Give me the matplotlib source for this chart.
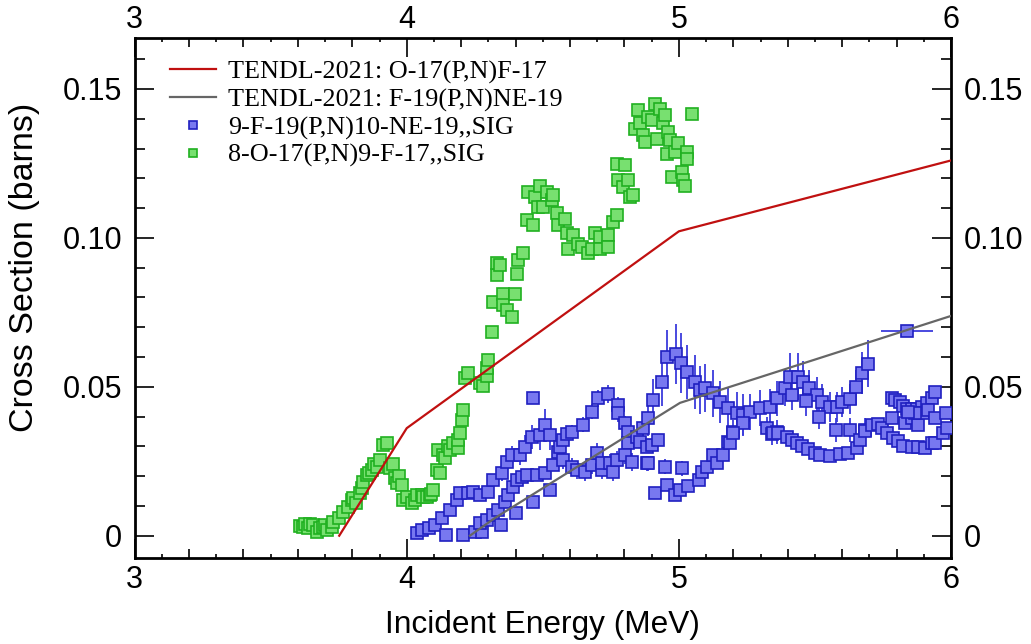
# Cross section plot: O-17(p,n) and F-19(p,n), TENDL-2021 vs EXFOR

import matplotlib.pyplot as plt
from matplotlib.ticker import MultipleLocator
import numpy as np

# TENDL-2021 evaluated curves
tendl_o17_e = [3.752, 4.0, 5.0, 6.0]
tendl_o17_s = [0.0, 0.0361, 0.1022, 0.1260]
tendl_f19_e = [4.232, 4.325, 5.004, 6.0]
tendl_f19_s = [0.0, 0.0060, 0.0446, 0.0738]

# 8-O-17(P,N)9-F-17,,SIG
green_e = [3.608, 3.620, 3.626, 3.639, 3.645, 3.657, 3.669, 3.680, 3.694, 3.700,
           3.706, 3.724, 3.730, 3.752, 3.767, 3.786, 3.798, 3.804, 3.815, 3.828,
           3.835, 3.841, 3.853, 3.860, 3.871, 3.880, 3.890, 3.902, 3.914, 3.926,
           3.939, 3.950, 3.957, 3.963, 3.970, 3.981, 3.988, 4.000, 4.018, 4.030,
           4.037, 4.055, 4.060, 4.073, 4.086, 4.090, 4.098, 4.110, 4.116, 4.122,
           4.135, 4.141, 4.150, 4.159, 4.171, 4.190, 4.190, 4.196, 4.202, 4.208,
           4.214, 4.226, 4.269, 4.282, 4.294, 4.294, 4.300, 4.312, 4.318, 4.331,
           4.331, 4.343, 4.355, 4.355, 4.367, 4.386, 4.398, 4.404, 4.410, 4.429,
           4.441, 4.447, 4.465, 4.471, 4.484, 4.490, 4.502, 4.514, 4.532, 4.539,
           4.551, 4.557, 4.582, 4.588, 4.594, 4.612, 4.631, 4.643, 4.667, 4.680,
           4.692, 4.710, 4.710, 4.741, 4.741, 4.759, 4.771, 4.771, 4.777, 4.796,
           4.802, 4.814, 4.820, 4.833, 4.839, 4.851, 4.857, 4.869, 4.876, 4.888,
           4.900, 4.912, 4.918, 4.931, 4.943, 4.949, 4.955, 4.961, 4.967, 4.973,
           4.986, 4.998, 5.010, 5.016, 5.022, 5.029, 5.029, 5.049]
green_s = [0.0033, 0.0030, 0.0039, 0.0025, 0.0040, 0.0036, 0.0012, 0.0025, 0.0030, 0.0035,
           0.0019, 0.0030, 0.0047, 0.0058, 0.0081, 0.0097, 0.0120, 0.0125, 0.0110, 0.0142,
           0.0160, 0.0181, 0.0204, 0.0210, 0.0220, 0.0240, 0.0232, 0.0254, 0.0304, 0.0310,
           0.0226, 0.0240, 0.0193, 0.0176, 0.0200, 0.0170, 0.0120, 0.0131, 0.0109, 0.0120,
           0.0137, 0.0137, 0.0130, 0.0131, 0.0137, 0.0140, 0.0153, 0.0220, 0.0288, 0.0209,
           0.0270, 0.0260, 0.0300, 0.0288, 0.0310, 0.0293, 0.0321, 0.0344, 0.0388, 0.0422,
           0.0528, 0.0545, 0.0511, 0.0502, 0.0536, 0.0562, 0.0591, 0.0685, 0.0785, 0.0875,
           0.0914, 0.0908, 0.0813, 0.0774, 0.0757, 0.0733, 0.0813, 0.0880, 0.0925, 0.0950,
           0.1059, 0.1154, 0.1043, 0.1138, 0.1104, 0.1173, 0.1104, 0.1154, 0.1127, 0.1143,
           0.1082, 0.1043, 0.1065, 0.1015, 0.0964, 0.1009, 0.0981, 0.0970, 0.0948, 0.0964,
           0.1015, 0.1003, 0.0964, 0.1009, 0.0970, 0.1054, 0.1076, 0.1249, 0.1193, 0.1171,
           0.1244, 0.1193, 0.1138, 0.1143, 0.1367, 0.1429, 0.1384, 0.1345, 0.1322, 0.1406,
           0.1395, 0.1451, 0.1333, 0.1434, 0.1384, 0.1412, 0.1283, 0.1356, 0.1328, 0.1205,
           0.1289, 0.1317, 0.1222, 0.1193, 0.1173, 0.1289, 0.1266, 0.1417]

# 9-F-19(P,N)10-NE-19,,SIG  (several data sets, with uncertainties)
b1_e = [4.037, 4.055, 4.080, 4.104, 4.128, 4.159, 4.184, 4.196, 4.226, 4.245,
        4.269, 4.300, 4.318, 4.349, 4.367, 4.386, 4.416, 4.435, 4.459, 4.465,
        4.490, 4.508, 4.527]
b1_s = [0.0008, 0.0019, 0.0025, 0.0036, 0.0058, 0.0086, 0.0120, 0.0142, 0.0142, 0.0148,
        0.0137, 0.0148, 0.0187, 0.0209, 0.0248, 0.0271, 0.0271, 0.0299, 0.0332, 0.0461,
        0.0338, 0.0372, 0.0338]
b1_d = [0.0005, 0.0005, 0.0006, 0.0006, 0.0008, 0.0010, 0.0012, 0.0015, 0.0015, 0.0015,
        0.0015, 0.0018, 0.0020, 0.0025, 0.0025, 0.0030, 0.0035, 0.0040, 0.0040, 0.0010,
        0.0050, 0.0055, 0.0050]

b2_e = [4.143, 4.208, 4.251, 4.275, 4.269, 4.294, 4.318, 4.337, 4.345, 4.361,
        4.373, 4.389, 4.404, 4.422, 4.441, 4.478, 4.508, 4.539, 4.557, 4.563,
        4.575, 4.588, 4.606, 4.649, 4.680, 4.704, 4.738, 4.778, 4.778, 4.802,
        4.814, 4.814, 4.845, 4.857, 4.882, 4.900, 4.924]
b2_s = [0.0003, 0.0003, 0.0014, 0.0014, 0.0042, 0.0053, 0.0070, 0.0086, 0.0036, 0.0114,
        0.0137, 0.0165, 0.0187, 0.0198, 0.0204, 0.0204, 0.0209, 0.0237, 0.0282, 0.0299,
        0.0321, 0.0343, 0.0349, 0.0372, 0.0416, 0.0461, 0.0475, 0.0438, 0.0411, 0.0377,
        0.0349, 0.0310, 0.0332, 0.0316, 0.0299, 0.0304, 0.0321]
b2_d = [0.0005, 0.0005, 0.0006, 0.0006, 0.0006, 0.0008, 0.0008, 0.0010, 0.0006, 0.0010,
        0.0012, 0.0012, 0.0015, 0.0015, 0.0015, 0.0015, 0.0015, 0.0018, 0.0020, 0.0020,
        0.0020, 0.0022, 0.0022, 0.0025, 0.0025, 0.0028, 0.0030, 0.0028, 0.0028, 0.0025,
        0.0025, 0.0022, 0.0022, 0.0022, 0.0020, 0.0020, 0.0022]

b3_e = [4.402, 4.465, 4.527, 4.575, 4.606, 4.624, 4.655, 4.680, 4.698, 4.716,
        4.716, 4.747, 4.759, 4.771, 4.802, 4.826, 4.882, 4.888, 4.949, 5.010]
b3_s = [0.0075, 0.0114, 0.0153, 0.0254, 0.0232, 0.0221, 0.0215, 0.0237, 0.0276, 0.0220,
        0.0243, 0.0243, 0.0215, 0.0254, 0.0271, 0.0248, 0.0243, 0.0243, 0.0232, 0.0226]
b3_d = [0.0010, 0.0015, 0.0020, 0.0030, 0.0030, 0.0030, 0.0030, 0.0030, 0.0035, 0.0030,
        0.0030, 0.0030, 0.0030, 0.0030, 0.0030, 0.0030, 0.0025, 0.0025, 0.0025, 0.0025]

b4_e = [4.869, 4.888, 4.906, 4.937, 4.957, 4.990, 5.008, 5.029, 5.059, 5.078,
        5.096, 5.126, 5.151, 5.182, 5.212, 5.237, 5.261, 5.298, 5.335, 5.359,
        5.200, 5.182, 5.237, 5.322, 5.341, 5.359]
b4_s = [0.0360, 0.0394, 0.0455, 0.0517, 0.0599, 0.0610, 0.0580, 0.0550, 0.0517, 0.0489,
        0.0495, 0.0478, 0.0450, 0.0428, 0.0411, 0.0405, 0.0416, 0.0428, 0.0433, 0.0461,
        0.0349, 0.0316, 0.0377, 0.0360, 0.0343, 0.0349]
b4_d = [0.0050, 0.0060, 0.0070, 0.0080, 0.0090, 0.0100, 0.0100, 0.0090, 0.0090, 0.0080,
        0.0080, 0.0080, 0.0070, 0.0070, 0.0070, 0.0070, 0.0060, 0.0060, 0.0060, 0.0060,
        0.0040, 0.0040, 0.0040, 0.0040, 0.0040, 0.0040]

b5_e = [5.390, 5.408, 5.439, 5.457, 5.479, 5.506, 5.524, 5.555, 5.580, 5.598,
        5.629, 5.651, 5.671, 5.696, 5.414, 5.467, 5.516, 5.577, 5.629, 5.684]
b5_s = [0.0495, 0.0534, 0.0534, 0.0517, 0.0495, 0.0472, 0.0450, 0.0433, 0.0433, 0.0450,
        0.0458, 0.0498, 0.0547, 0.0578, 0.0472, 0.0453, 0.0399, 0.0355, 0.0355, 0.0355]
b5_d = [0.0060, 0.0080, 0.0080, 0.0070, 0.0060, 0.0060, 0.0060, 0.0050, 0.0050, 0.0050,
        0.0050, 0.0060, 0.0070, 0.0080, 0.0050, 0.0050, 0.0040, 0.0040, 0.0040, 0.0040]

b6_e = [4.912, 4.955, 4.986, 5.004, 5.035, 5.075, 5.084, 5.102, 5.127, 5.139,
        5.163, 5.188, 5.200, 5.347, 5.365, 5.396, 5.414, 5.433, 5.451, 5.475,
        5.500, 5.518, 5.555, 5.592, 5.623, 5.653, 5.665, 5.684, 5.708, 5.733,
        5.745, 5.766, 5.788, 5.806, 5.825, 5.855, 5.880, 5.904, 5.929, 5.941,
        5.971, 5.984]
b6_s = [0.0145, 0.0170, 0.0137, 0.0153, 0.0167, 0.0187, 0.0215, 0.0232, 0.0271, 0.0243,
        0.0271, 0.0312, 0.0346, 0.0344, 0.0344, 0.0332, 0.0321, 0.0310, 0.0301, 0.0290,
        0.0276, 0.0271, 0.0267, 0.0274, 0.0276, 0.0293, 0.0321, 0.0353, 0.0372, 0.0375,
        0.0360, 0.0344, 0.0328, 0.0317, 0.0301, 0.0299, 0.0297, 0.0295, 0.0310, 0.0312,
        0.0344, 0.0360]
b6_d = [0.0010, 0.0010, 0.0010, 0.0010, 0.0010, 0.0010, 0.0012, 0.0012, 0.0012, 0.0012,
        0.0012, 0.0012, 0.0012, 0.0010, 0.0010, 0.0010, 0.0010, 0.0010, 0.0010, 0.0010,
        0.0010, 0.0010, 0.0010, 0.0010, 0.0010, 0.0010, 0.0010, 0.0010, 0.0010, 0.0010,
        0.0010, 0.0010, 0.0010, 0.0010, 0.0010, 0.0010, 0.0010, 0.0010, 0.0010, 0.0010,
        0.0010, 0.0010]

b7_e = [5.782, 5.794, 5.812, 5.825, 5.837, 5.855, 5.874, 5.892, 5.910, 5.929,
        5.941, 5.831, 5.855, 5.880, 5.898, 5.916, 5.868, 5.843, 5.782, 5.941, 5.981]
b7_s = [0.0461, 0.0455, 0.0450, 0.0435, 0.0427, 0.0424, 0.0427, 0.0433, 0.0444, 0.0461,
        0.0483, 0.0377, 0.0394, 0.0372, 0.0411, 0.0422, 0.0411, 0.0416, 0.0394, 0.0394, 0.0411]
b7_d = [0.0020, 0.0020, 0.0020, 0.0020, 0.0020, 0.0020, 0.0020, 0.0020, 0.0020, 0.0020,
        0.0020, 0.0020, 0.0020, 0.0020, 0.0020, 0.0020, 0.0020, 0.0020, 0.0020, 0.0020, 0.0020]

# one point with a wide energy bin
b8_e = [5.837]
b8_s = [0.0688]
b8_d = [0.0020]
b8_de = [0.095]

blue_e = np.concatenate([b1_e, b2_e, b3_e, b4_e, b5_e, b6_e, b7_e, b8_e])
blue_s = np.concatenate([b1_s, b2_s, b3_s, b4_s, b5_s, b6_s, b7_s, b8_s])
blue_d = np.concatenate([b1_d, b2_d, b3_d, b4_d, b5_d, b6_d, b7_d, b8_d])

fig = plt.figure(figsize=(10.31, 6.44), dpi=100)
ax = fig.add_axes([0.1305, 0.1335, 0.792, 0.807])

# error bars
ax.errorbar(blue_e, blue_s, yerr=blue_d, fmt='none', ecolor='#3c3cdc',
            elinewidth=1.3, capsize=0, zorder=2)
ax.errorbar(b8_e, b8_s, xerr=b8_de, fmt='none', ecolor='#3c3cdc',
            elinewidth=1.3, capsize=0, zorder=2)

# evaluated lines
ax.plot(tendl_o17_e, tendl_o17_s, color='#c01010', lw=1.6, zorder=4,
        label='TENDL-2021: O-17(P,N)F-17')
ax.plot(tendl_f19_e, tendl_f19_s, color='#666666', lw=1.6, zorder=4,
        label='TENDL-2021: F-19(P,N)NE-19')

# data points
ax.plot(blue_e, blue_s, ls='none', marker='s', ms=8, mfc='#7878f0',
        mec='#2020c0', mew=1.2, zorder=3, label='9-F-19(P,N)10-NE-19,,SIG')
ax.plot(green_e, green_s, ls='none', marker='s', ms=8, mfc='#78e070',
        mec='#20b020', mew=1.2, zorder=3, label='8-O-17(P,N)9-F-17,,SIG')

ax.set_xlim(3, 6)
ax.set_ylim(-0.0075, 0.167)

# ticks
ax.set_xticks([3, 4, 5, 6])
ax.set_xticklabels(['3', '4', '5', '6'])
ax.xaxis.set_minor_locator(MultipleLocator(0.2))
ax.set_yticks([0, 0.05, 0.10, 0.15])
ax.set_yticklabels(['0', '0.05', '0.10', '0.15'])
ax.yaxis.set_minor_locator(MultipleLocator(0.01))

ax.tick_params(axis='both', which='both', direction='in',
               top=True, right=True, labeltop=False, labelright=True,
               labelsize=22, width=1.2)
ax.tick_params(axis='x', which='major', length=14, pad=5)
ax.tick_params(axis='x', which='minor', length=6.5)
ax.tick_params(axis='y', which='major', length=13.5, pad=9)
ax.tick_params(axis='y', which='minor', length=7)
for lab in ax.get_xticklabels() + ax.get_yticklabels():
    lab.set_family('Liberation Sans')

# small 0.1 MeV ticks
odd_tenths = [3.1, 3.3, 3.5, 3.7, 3.9, 4.1, 4.3, 4.5, 4.7, 4.9,
              5.1, 5.3, 5.5, 5.7, 5.9]
for side in ['bottom', 'top']:
    sec = ax.secondary_xaxis(side)
    sec.set_xticks(odd_tenths)
    sec.set_xticklabels([])
    sec.tick_params(direction='in', length=3, width=1.2)
    sec.spines[side].set_visible(False)

# top energy labels
top = ax.secondary_xaxis('top')
top.set_xticks([3, 4, 5, 6])
top.set_xticklabels(['3', '4', '5', '6'], family='Liberation Sans')
top.tick_params(length=0, pad=2.5, labelsize=22)
top.spines['top'].set_visible(False)

for sp in ax.spines.values():
    sp.set_linewidth(2)

ax.set_xlabel('Incident Energy (MeV)', fontsize=22.8, family='Liberation Sans')
ax.set_ylabel('Cross Section (barns)', fontsize=24.5, family='Liberation Sans')
ax.xaxis.set_label_coords(0.5, -0.1)
ax.yaxis.set_label_coords(-0.116, 0.559)

ax.legend(loc='upper left', bbox_to_anchor=(0.0435, 0.958), frameon=False,
          prop={'family': 'Liberation Serif', 'size': 18.8},
          handlelength=1.75, handletextpad=0.47, labelspacing=0.16,
          borderpad=0, borderaxespad=0, markerscale=0.75)

plt.savefig('out.png', dpi=100)
